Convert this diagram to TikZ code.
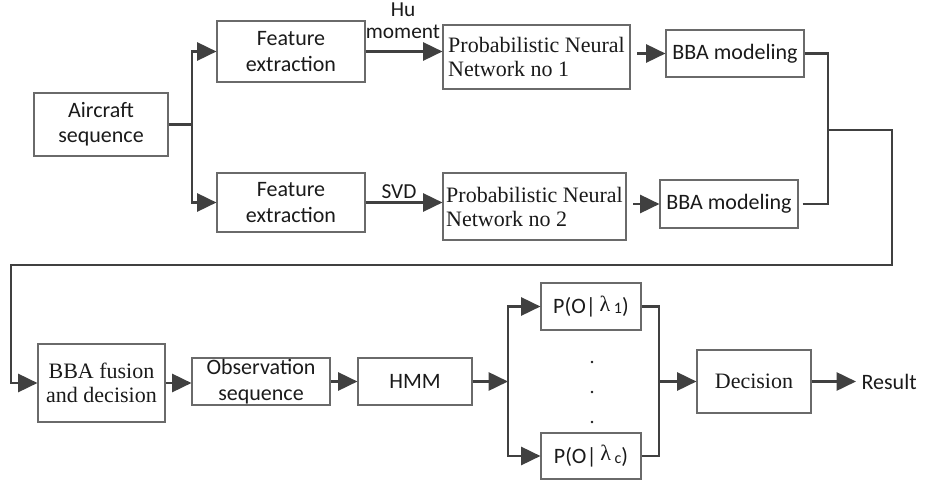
\documentclass[tikz,border=0pt]{standalone}
\usepackage{fontspec}
\setmainfont{Carlito}
\newfontfamily\serif{Liberation Serif}
\usetikzlibrary{arrows.meta}
\definecolor{ln}{HTML}{404040}
\definecolor{bd}{HTML}{6A6A6A}
\definecolor{tx}{HTML}{1A1A1A}
\def\pxu{0.75pt}
\begin{document}
\begin{tikzpicture}[x=0.75pt,y=-0.75pt,
  box/.style={draw=bd, line width=0.8pt, inner sep=0pt, align=center, text=tx, font=\fontsize{16.5}{19}\selectfont},
  sbox/.style={box, font=\serif\fontsize{16.5}{18}\selectfont},
  lbl/.style={inner sep=1pt, text=tx, align=center, font=\fontsize{16}{16}\selectfont},
  line/.style={draw=ln, line width=2pt},
  arr/.style={line, -{Triangle[length=14.5pt,width=13.5pt]}},
  dot/.style={circle, fill=tx, inner sep=0pt, minimum size=2.2pt},
]
\useasboundingbox (0,0) rectangle (929,485);

% boxes
\node[box, minimum width=134*\pxu, minimum height=63*\pxu] (air) at (101,124.5) {Aircraft\\sequence};
\node[box, minimum width=148*\pxu, minimum height=61*\pxu] (fe1) at (291,51.5) {Feature\\extraction};
\node[box, minimum width=148*\pxu, minimum height=59*\pxu] (fe2) at (291,202.5) {Feature\\extraction};
\node[sbox, align=left, minimum width=187*\pxu, minimum height=64*\pxu] (pnn1) at (536.5,57) {Probabilistic Neural\\Network no 1};
\node[sbox, align=left, minimum width=183*\pxu, minimum height=67*\pxu] (pnn2) at (534.5,206.5) {Probabilistic Neural\\Network no 2};
\node[box, minimum width=138*\pxu, minimum height=47*\pxu] (bba1) at (735,53.5) {BBA modeling};
\node[box, minimum width=138*\pxu, minimum height=48*\pxu] (bba2) at (729,204) {BBA modeling};
\node[sbox, minimum width=127*\pxu, minimum height=78*\pxu] (fus) at (101.5,383) {BBA fusion\\and decision};
\node[box, minimum width=138*\pxu, minimum height=47*\pxu] (obs) at (261,381.5) {Observation\\sequence};
\node[box, minimum width=114*\pxu, minimum height=47*\pxu] (hmm) at (415,381.5) {HMM};
\node[box, minimum width=100*\pxu, minimum height=47*\pxu] (p1) at (591,306.5) {P(O|\,\raisebox{2pt}{\serif λ}\,{\fontsize{12}{12}\selectfont 1})};
\node[box, minimum width=100*\pxu, minimum height=46*\pxu] (pc) at (591,456) {P(O|\,\raisebox{2pt}{\serif λ}\,{\fontsize{12}{12}\selectfont c})};
\node[sbox, minimum width=114*\pxu, minimum height=63*\pxu] (dec) at (754,381.5) {Decision};

% labels
\node[lbl, font=\fontsize{16}{16.5}\selectfont] (hu) at (403,21) {Hu\\moment};
\node[lbl] (svd) at (399,192) {SVD};
\node[lbl, anchor=west, font=\fontsize{16.5}{19}\selectfont] (res) at (860,381.5) {Result};

% dots
\node[dot] (d1) at (592,362) {};
\node[dot] (d2) at (592,392) {};
\node[dot] (d3) at (592,422) {};

% coordinates
\coordinate (b1) at (192,124.5);
\coordinate (m) at (828,130);
\coordinate (c1) at (892,130);
\coordinate (c2) at (892,265);
\coordinate (c3) at (11,265);
\coordinate (b2) at (508,381.5);
\coordinate (b3) at (659,381.5);

% connectors
\draw[line] (air.east) -- (b1);
\draw[arr] (b1) |- (fe1.west);
\draw[arr] (b1) |- (fe2.west);
\draw[arr] (fe1.east) -- (fe1.east -| pnn1.west);
\draw[arr] (fe2.east) -- (fe2.east -| pnn2.west);
\draw[arr, shorten <=5pt] (pnn1.east |- bba1.west) -- (bba1.west);
\draw[arr, shorten <=5pt] (pnn2.east |- bba2.west) -- (bba2.west);
\draw[line] (bba1.east) -| (m);
\draw[line, shorten <=3pt] (bba2.east) -| (m);
\draw[arr] (m) -- (c1) -- (c2) -- (c3) |- (fus.west);
\draw[arr] (fus.east) -- (fus.east -| obs.west);
\draw[arr] (obs.east) -- (hmm.west);
\draw[arr] (hmm.east) -- (b2);
\draw[arr] (b2) |- (p1.west);
\draw[arr] (b2) |- (pc.west);
\draw[line] (p1.east) -| (b3);
\draw[line] (pc.east) -| (b3);
\draw[arr] (b3) -- (dec.west);
\draw[arr, shorten >=3pt] (dec.east) -- (res.west);
\end{tikzpicture}
\end{document}
